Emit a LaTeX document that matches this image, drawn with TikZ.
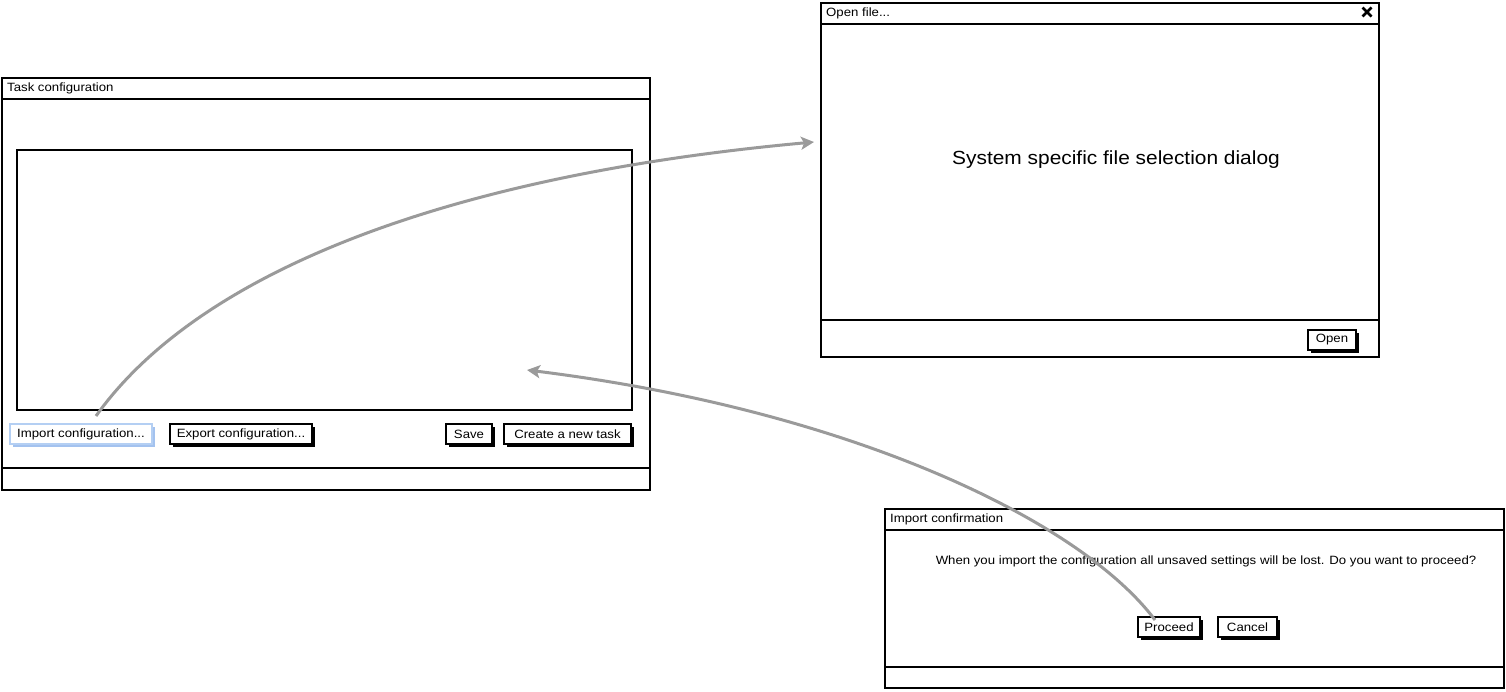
\documentclass[tikz,border=0pt]{standalone}
\usepackage{fontspec}
\setmainfont[FakeStretch=1.1]{Liberation Sans}
\usetikzlibrary{arrows.meta,calc}
\definecolor{flow}{HTML}{9A9A9A}
\definecolor{selblue}{HTML}{B4CFF3}
\definecolor{selshadow}{HTML}{A3C2EF}
\begin{document}
\begin{tikzpicture}[x=1pt,y=-1pt,
  win/.style={draw,line width=2.3pt,fill=white,anchor=north west,inner sep=0pt,outer sep=0pt},
  sep/.style={line width=2.3pt},
  frame/.style={draw,line width=2pt,anchor=north west,inner sep=0pt,outer sep=0pt},
  ttl/.style={anchor=west,inner sep=0pt,font=\fontsize{12}{14}\selectfont},
  btn/.style={draw,line width=1.3pt,fill=white,anchor=north west,inner sep=0pt,outer sep=0pt,
    minimum height=20pt,font=\fontsize{12}{14}\selectfont,
    preaction={fill=black,transform canvas={shift={(3pt,-3pt)}}}},
  selbtn/.style={btn,draw=selblue,preaction={fill=selshadow,transform canvas={shift={(3pt,-3pt)}}}},
  flowarrow/.style={draw=flow,line width=3pt,-{Stealth[length=13pt,width=13pt,inset=3pt]}}
]
\useasboundingbox (0,0) rectangle (1506,691);

% ---- Task configuration window
\node[win,minimum width=648pt,minimum height=412pt] (task) at (2,78) {};
\draw[sep] (2,99) -- (650,99);
\draw[sep] (2,468) -- (650,468);
\node[ttl] (tasktitle) at (7,88.5) {Task configuration};
\node[frame,minimum width=615pt,minimum height=260pt] (list) at (17,150) {};
\node[selbtn,minimum width=142pt] (imp) at (10,424) {Import configuration...};
\node[btn,minimum width=142pt] (exp) at (170,424) {Export configuration...};
\node[btn,minimum width=46pt] (save) at (446,424) {Save};
\node[btn,minimum width=127pt] (create) at (504,424) {Create a new task};

% ---- Open file dialog
\node[win,minimum width=558pt,minimum height=354pt] (open) at (821,3) {};
\draw[sep] (821,24) -- (1379,24);
\draw[sep] (821,320) -- (1379,320);
\node[ttl] (opentitle) at (826,13.5) {Open file...};
\draw[line width=2.6pt] (1362.5,7.5) -- (1371.5,16.5) (1362.5,16.5) -- (1371.5,7.5);
\node[font=\fontsize{19}{22}\selectfont,inner sep=0pt] (sysmsg) at (1116,160) {System specific file selection dialog};
\node[btn,minimum width=48pt] (openbtn) at (1308,330) {Open};

% ---- Import confirmation dialog
\node[win,minimum width=619pt,minimum height=179pt] (conf) at (885,509) {};
\draw[sep] (885,530) -- (1504,530);
\draw[sep] (885,667) -- (1504,667);
\node[ttl] (conftitle) at (890,519.5) {Import confirmation};
\node[inner sep=0pt,font=\fontsize{12}{14}\selectfont] (msg) at (1206,561)
  {When you import the configuration all unsaved settings will be lost. Do you want to proceed?};
\node[btn,minimum width=62pt] (prc) at (1138,617) {Proceed};
\node[btn,minimum width=59pt] (cancel) at (1218,617) {Cancel};

% ---- flow connectors
\coordinate (openin) at ($(open.north west)+(-7,139)$);
\coordinate (drop) at ($(list.north west)+(510,220)$);
\draw[flowarrow] ($(imp.north)+(15,-8)$) .. controls +(104,-146) and +(-362,33) .. (openin);
\draw[flowarrow] ($(prc.north west)+(17,3)$) .. controls +(-75,-100) and +(322,40) .. (drop);
\end{tikzpicture}
\end{document}
